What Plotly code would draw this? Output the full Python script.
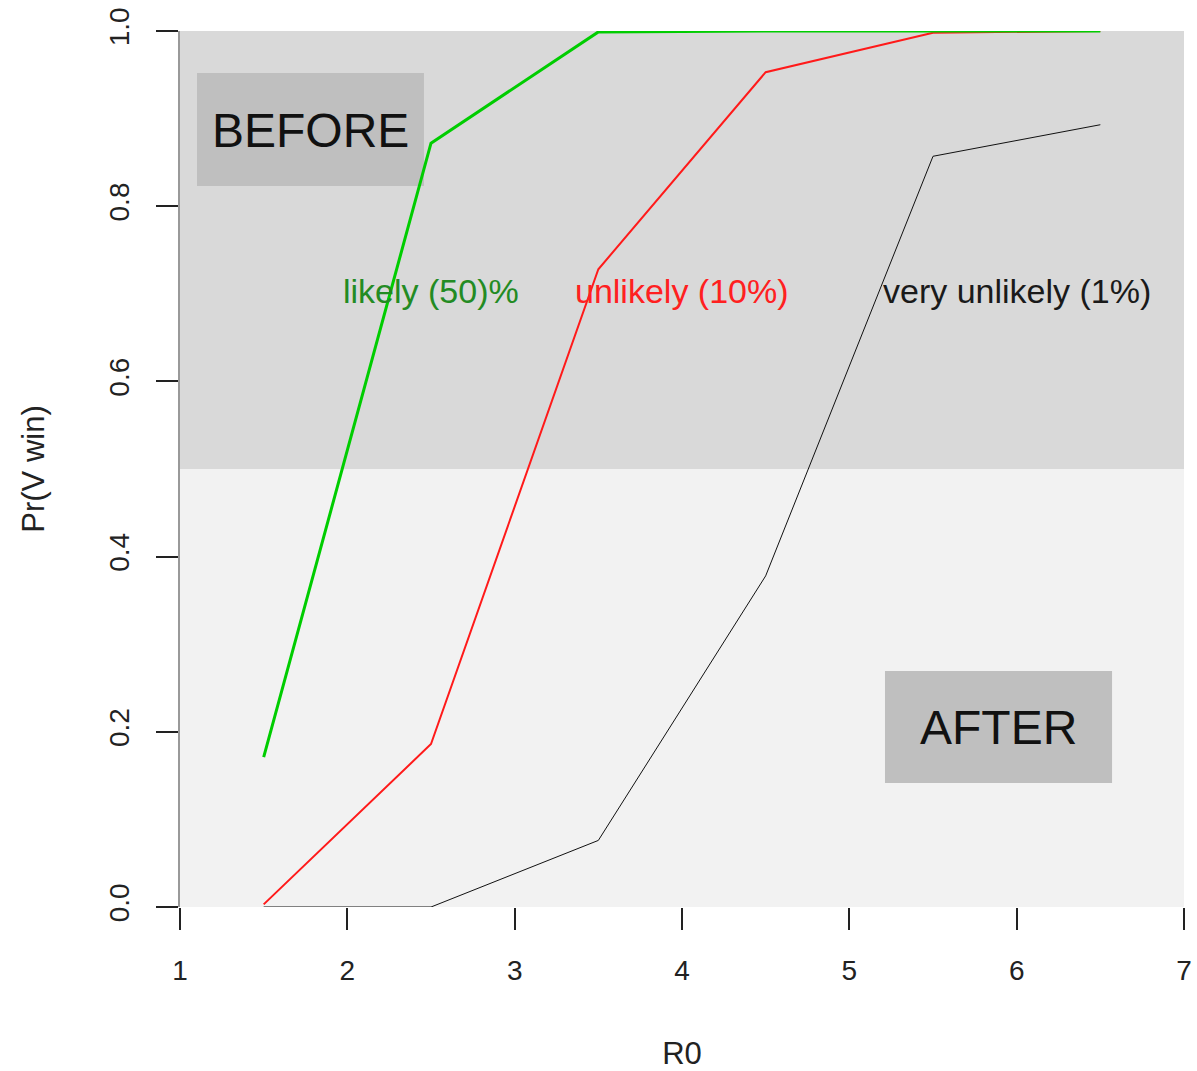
import plotly.graph_objects as go

r0 = [1.5, 2.5, 3.5, 4.5, 5.5, 6.5]
likely_50 = [0.171, 0.872, 0.999, 1.0, 1.0, 1.0]
unlikely_10 = [0.003, 0.186, 0.728, 0.953, 0.998, 1.0]
very_unlikely_1 = [0.0, 0.0, 0.076, 0.378, 0.857, 0.893]

series_labels = ["likely (50)%", "unlikely (10%)", "very unlikely (1%)"]
label_x = [2.5, 4.0, 6.0]
label_y = [0.703, 0.703, 0.703]

x_ticks = [1, 2, 3, 4, 5, 6, 7]
y_ticks = [0.0, 0.2, 0.4, 0.6, 0.8, 1.0]

FONT = "Liberation Sans, Arial, sans-serif"

fig = go.Figure()
fig.add_trace(go.Scatter(x=r0, y=very_unlikely_1, mode="lines",
                         line=dict(color="#111111", width=1), showlegend=False))
fig.add_trace(go.Scatter(x=r0, y=unlikely_10, mode="lines",
                         line=dict(color="#ff1a1a", width=2), showlegend=False))
fig.add_trace(go.Scatter(x=r0, y=likely_50, mode="lines",
                         line=dict(color="#00cd00", width=3), showlegend=False))

shapes = [
    dict(type="rect", xref="x", yref="y", x0=1, x1=7, y0=0.5, y1=1.0,
         fillcolor="#d9d9d9", line=dict(width=0), layer="below"),
    dict(type="rect", xref="x", yref="y", x0=1, x1=7, y0=0.0, y1=0.5,
         fillcolor="#f2f2f2", line=dict(width=0), layer="below"),
    dict(type="rect", xref="x", yref="y", x0=1.1016, x1=2.458, y0=0.823, y1=0.952,
         fillcolor="#bfbfbf", line=dict(width=0), layer="below"),
    dict(type="rect", xref="x", yref="y", x0=5.213, x1=6.570, y0=0.1416, y1=0.2694,
         fillcolor="#bfbfbf", line=dict(width=0), layer="below"),
]

label_colors = ["#238b23", "#ff2020", "#1a1a1a"]
annotations = []
for t, x, y, c in zip(series_labels, label_x, label_y, label_colors):
    annotations.append(dict(x=x, y=y, xref="x", yref="y", text=t, showarrow=False,
                            font=dict(family=FONT, size=34, color=c),
                            xanchor="center", yanchor="middle"))
annotations.append(dict(x=1.78, y=0.886, xref="x", yref="y", text="BEFORE", showarrow=False,
                        font=dict(family=FONT, size=48, color="#111111"),
                        xanchor="center", yanchor="middle"))
annotations.append(dict(x=5.89, y=0.205, xref="x", yref="y", text="AFTER", showarrow=False,
                        font=dict(family=FONT, size=48, color="#111111"),
                        xanchor="center", yanchor="middle"))

fig.update_layout(
    width=1197, height=1071,
    margin=dict(l=180, r=13, t=31, b=164, autoexpand=False),
    paper_bgcolor="white", plot_bgcolor="white",
    shapes=shapes, annotations=annotations,
    font=dict(family=FONT, color="#222222"),
)
fig.update_xaxes(range=[1, 7], tickvals=x_ticks, ticktext=[str(v) for v in x_ticks],
                 automargin=False,
                 showgrid=False, zeroline=False, showline=False,
                 ticks="outside", ticklen=22, tickcolor="#222222", tickwidth=2,
                 ticklabelstandoff=16,
                 tickfont=dict(family=FONT, size=28, color="#222222"),
                 title=dict(text="R0", font=dict(family=FONT, size=31, color="#222222"), standoff=58))
fig.update_yaxes(range=[0, 1], tickvals=y_ticks, ticktext=[f"{v:.1f}" for v in y_ticks],
                 automargin=False,
                 showgrid=False, zeroline=False, showline=True, linecolor="#999999", linewidth=2,
                 ticks="outside", ticklen=22, tickcolor="#222222", tickwidth=2, tickangle=-90,
                 ticklabelstandoff=16,
                 tickfont=dict(family=FONT, size=28, color="#222222"),
                 title=dict(text="Pr(V win)", font=dict(family=FONT, size=31, color="#222222"), standoff=50))

fig.write_html("out.html")
